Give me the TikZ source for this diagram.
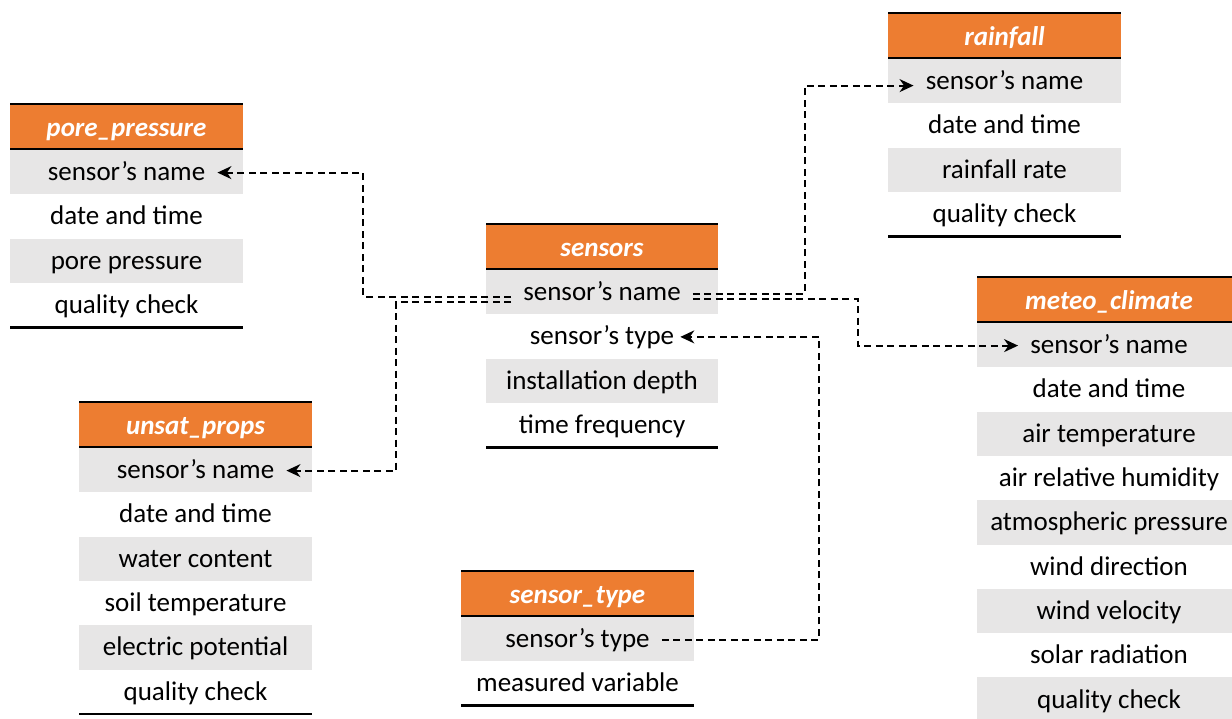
\documentclass[tikz,border=0pt]{standalone}
\usepackage{fontspec}
\setmainfont{Carlito}
\usetikzlibrary{arrows.meta}

\definecolor{hdorange}{HTML}{ED7D31}
\definecolor{rowgrey}{HTML}{E7E6E6}

\tikzset{
  rule/.style={line width=2.6pt, black},
  title/.style={font=\fontsize{27}{30}\selectfont\bfseries\itshape, text=white,
                inner sep=0pt, text height=16pt, text depth=0pt},
  field/.style={font=\fontsize{27}{30}\selectfont, inner xsep=12pt, inner ysep=0pt,
                text height=16pt, text depth=0pt},
  link/.style={line width=1.8pt, dash pattern=on 7pt off 4.5pt,
               -{Stealth[length=14pt,width=13pt,inset=4.5pt]}},
}

% One table: id, left x, top y, width, title, list of fields
\newcommand\erTable[6]{%
  \fill[hdorange] (#2,#3) rectangle ++(#4,45);
  \draw[rule] (#2,#3) -- ++(#4,0);
  \draw[rule] (#2,#3+45) -- ++(#4,0);
  \node[title] (#1-h) at (#2+#4/2,#3+24) {#5};
  \foreach \f [count=\i] in {#6} {
    \pgfmathsetmacro\ya{#3+46+44.3*(\i-1)}
    \ifodd\i\relax \fill[rowgrey] (#2,\ya) rectangle ++(#4,44.3);\fi
    \node[field] (#1-\i) at (#2+#4/2,\ya+22.6) {\f};
    \xdef\lastrow{\i}
  }
  \draw[rule] (#2,#3+46+44.3*\lastrow) -- ++(#4,0);
}

\begin{document}
\begin{tikzpicture}[x=1pt, y=-1pt]
  \clip (0,0) rectangle (1232,718);
  \fill[white] (0,0) rectangle (1232,718);

  \erTable{pp}{10}{104}{233}{pore\_pressure}%
    {sensor’s name, date and time, pore pressure, quality check}
  \erTable{se}{486}{224}{232}{sensors}%
    {sensor’s name, sensor’s type, installation depth, time frequency}
  \erTable{rf}{888}{13}{233}{rainfall}%
    {sensor’s name, date and time, rainfall rate, quality check}
  \erTable{mc}{977}{277}{264}{meteo\_climate}%
    {sensor’s name, date and time, air temperature, air relative humidity,
     atmospheric pressure, wind direction, wind velocity, solar radiation, quality check}
  \erTable{us}{79}{402}{233}{unsat\_props}%
    {sensor’s name, date and time, water content, soil temperature,
     electric potential, quality check}
  \erTable{st}{461}{571}{233}{sensor\_type}%
    {sensor’s type, measured variable}

  % columns where the connectors turn
  \coordinate (cA) at (363,0);
  \coordinate (cD) at (396,0);
  \coordinate (cB) at (805,0);
  \coordinate (cC) at (858,0);
  \coordinate (cE) at (819,0);

  \draw[link] ([yshift=-4pt]se-1.west) -| (cA |- pp-1.east) -- (pp-1.east);
  \draw[link] ([yshift=-9pt]se-1.west) -| (cD |- us-1.east) -- (us-1.east);
  \draw[link] ([yshift=-1pt]se-1.east) -| ([yshift=-4pt]cB |- rf-1.west) -- ([yshift=-4pt]rf-1.west);
  \draw[link] ([yshift=-6pt]se-1.east) -| (cC |- mc-1.west) -- (mc-1.west);
  \draw[link, shorten >=-6pt] (st-1.east) -| (cE |- se-2.east) -- (se-2.east);
\end{tikzpicture}
\end{document}
